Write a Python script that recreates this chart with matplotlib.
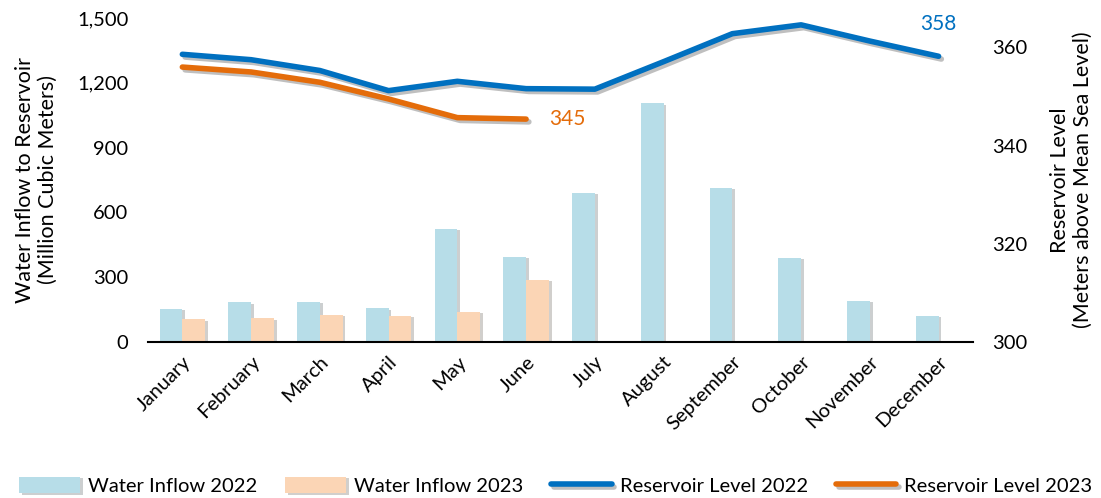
import numpy as np
import matplotlib.pyplot as plt
import matplotlib.patheffects as pe
from matplotlib.ticker import FuncFormatter

plt.rcParams['font.family'] = ['Lato', 'DejaVu Sans']

months = ['January', 'February', 'March', 'April', 'May', 'June', 'July',
          'August', 'September', 'October', 'November', 'December']
inflow_2022 = [153, 184, 185, 156, 523, 394, 691, 1105, 713, 390, 190, 120]
inflow_2023 = [105, 110, 125, 122, 140, 289]
level_2022 = [358.6, 357.5, 355.3, 351.2, 353.1, 351.6, 351.5, 357.1, 362.8, 364.6, 361.3, 358.2]
level_2023 = [356.0, 355.0, 352.9, 349.5, 345.7, 345.4]

c_bar22 = '#B7DDE8'
c_bar23 = '#FBD5B5'
c_line22 = '#0070C0'
c_line23 = '#E46C0A'

fig = plt.figure(figsize=(11.01, 4.98), dpi=100)
ax = fig.add_axes([0.1344, 0.3133, 0.7493, 0.6506])
ax2 = ax.twinx()

x = np.arange(len(months))
w = 0.33
shadow = [pe.SimplePatchShadow(offset=(2, -1), alpha=0.25), pe.Normal()]
b1 = ax.bar(x - w/2, inflow_2022, w, color=c_bar22, label='Water Inflow 2022')
b2 = ax.bar(x[:len(inflow_2023)] + w/2, inflow_2023, w, color=c_bar23, label='Water Inflow 2023')
for p in list(b1) + list(b2):
    p.set_path_effects(shadow)

lshadow = [pe.SimpleLineShadow(offset=(2, -2), alpha=0.25), pe.Normal()]
l1, = ax2.plot(x, level_2022, color=c_line22, lw=4, solid_capstyle='round',
               label='Reservoir Level 2022', path_effects=lshadow)
l2, = ax2.plot(x[:len(level_2023)], level_2023, color=c_line23, lw=4, solid_capstyle='round',
               label='Reservoir Level 2023', path_effects=lshadow)

ax2.text(x[-1], level_2022[-1] + 6.6, f'{level_2022[-1]:.0f}', color=c_line22,
         fontsize=15, ha='center', va='center')
ax2.text(len(level_2023) - 1 + 0.6, level_2023[-1], f'{level_2023[-1]:.0f}', color=c_line23,
         fontsize=15, ha='center', va='center')

ax.set_xlim(-0.5, 11.5)
ax.set_ylim(0, 1500)
ax2.set_ylim(300, 366)
ax.set_yticks([0, 300, 600, 900, 1200, 1500])
ax2.set_yticks([300, 320, 340, 360])
ax.yaxis.set_major_formatter(FuncFormatter(lambda v, p: f'{v:,.0f}'))

ax.set_xticks(x)
ax.set_xticklabels(months, rotation=45, ha='right', rotation_mode='anchor')

for a in (ax, ax2):
    for s in ['top', 'left', 'right', 'bottom']:
        a.spines[s].set_visible(False)
    a.tick_params(length=0, labelsize=14.5, pad=14)
ax.spines['bottom'].set_visible(True)
ax.spines['bottom'].set_linewidth(1.5)
ax.tick_params(axis='x', pad=8, labelsize=14.5)

ax.set_ylabel('Water Inflow to Reservoir\n(Million Cubic Meters)', fontsize=15.5, labelpad=14)
ax2.set_ylabel('Reservoir Level\n(Meters above Mean Sea Level)', fontsize=15.5, labelpad=16)

fig.legend(handles=[b1, b2, l1, l2], loc='lower center', bbox_to_anchor=(0.505, -0.03),
           ncol=4, frameon=False, fontsize=14.5, handlelength=3.0, handleheight=0.9,
           columnspacing=1.4, handletextpad=0.4)

fig.savefig('out.png', dpi=100)
